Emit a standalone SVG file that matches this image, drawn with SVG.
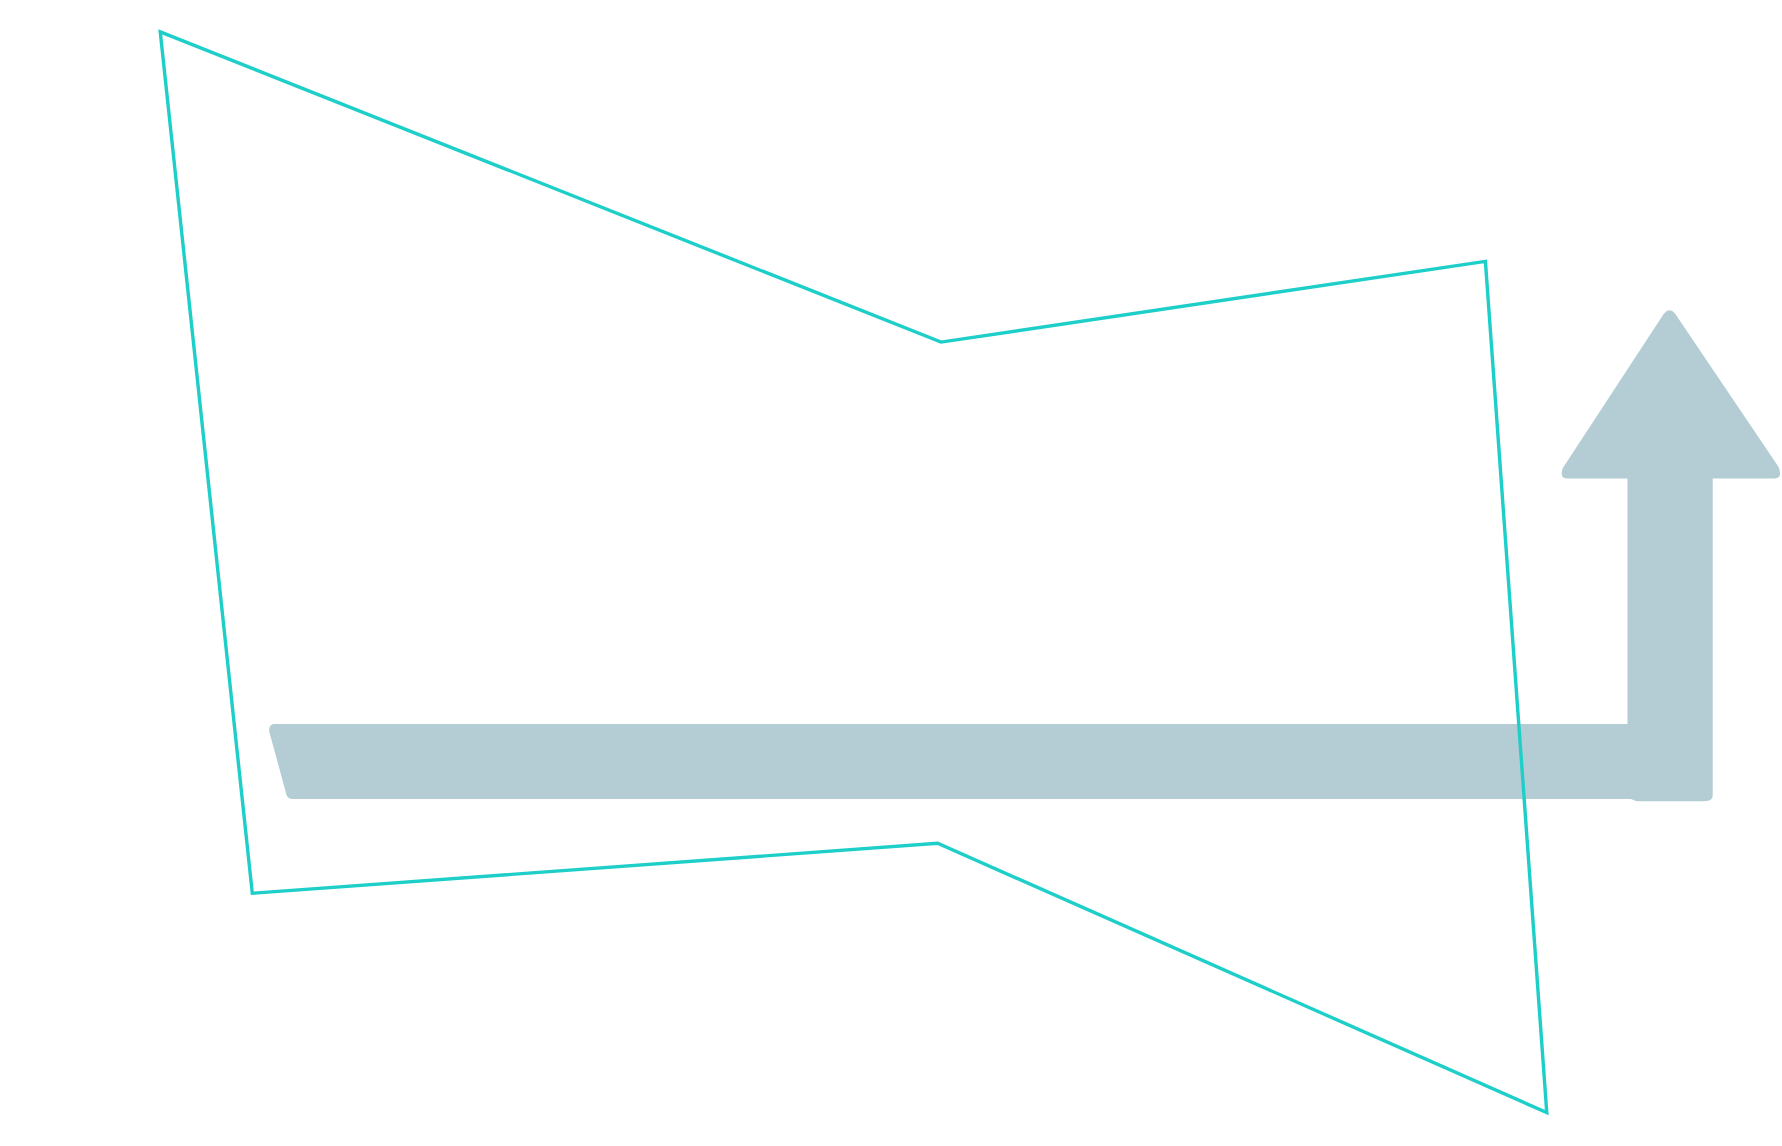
<svg xmlns="http://www.w3.org/2000/svg" width="1782" height="1146" viewBox="0 0 1782 1146">
<style>.arrow{fill:#b4cdd4}.outline{fill:none;stroke:#1ecfc9;stroke-width:3}</style>
<rect width="1782" height="1146" fill="#fff"/>
<g transform="scale(1.1365)">
<g id="arrow">
<path class="arrow" d="M242,637 L1432,637 L1432,421 L1379,421 Q1372,421 1375,412 L1464,276 Q1469,270 1474,276 L1565,411 Q1569,421 1561,421 L1507,421 L1507,700 Q1507,705 1500,705 L1440,705 L1435,703 L258,703 Q253,703 252,699 L237,644 Q236,637 242,637 Z"/>
</g>
<g id="outline">
<polygon class="outline" points="141,28 828,301 1307,230 1361,979 825,742 222,786"/>
</g>
<g id="connectors"></g>
</g>
</svg>
